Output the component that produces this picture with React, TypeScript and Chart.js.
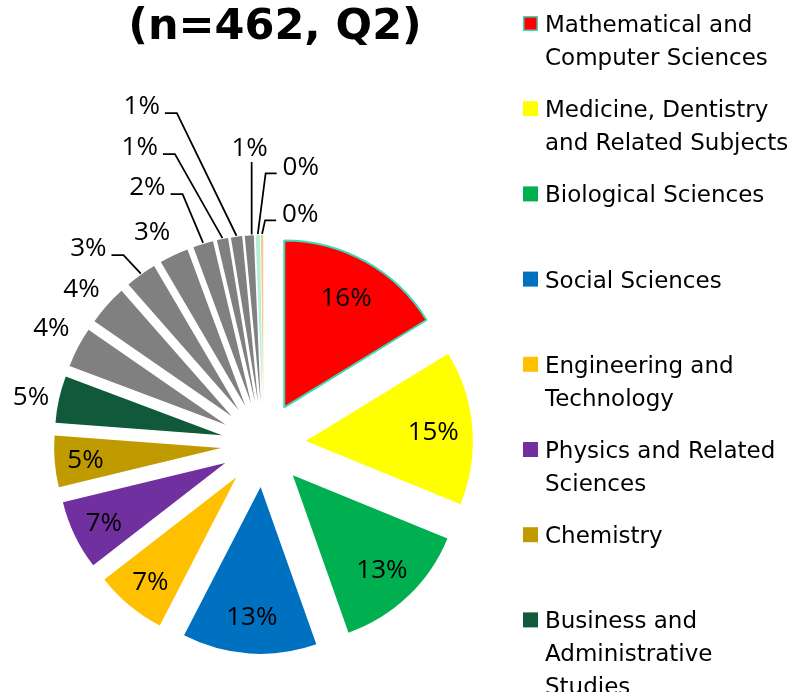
import React, { useEffect, useRef } from "react";
import { Chart, registerables } from "chart.js";

Chart.register(...registerables);

const titleText = "(n=462, Q2)";

const categories = [
  "Mathematical and Computer Sciences",
  "Medicine, Dentistry and Related Subjects",
  "Biological Sciences",
  "Social Sciences",
  "Engineering and Technology",
  "Physics and Related Sciences",
  "Chemistry",
  "Business and Administrative Studies",
  "Subjects Allied to Medicine",
  "Physical Geography and Environmental Sciences",
  "Education",
  "Historical and Philosophical Studies",
  "Languages",
  "Law",
  "Architecture, Building and Planning",
  "Creative Arts and Design",
  "Agriculture and Related Subjects",
  "Veterinary Sciences",
];

// respondents per subject (n = 462)
const counts = [75, 69, 62, 60, 32, 31, 23, 21, 18, 18, 14, 13, 9, 5, 5, 4, 2, 1];

const sliceColors = [
  "#FF0000",
  "#FFFF00",
  "#00B050",
  "#0070C0",
  "#FFC000",
  "#7030A0",
  "#C09B00",
  "#10593A",
  "#808080",
  "#808080",
  "#808080",
  "#808080",
  "#808080",
  "#808080",
  "#808080",
  "#808080",
  "#B5EFD9",
  "#F6C880",
];

const highlightBorder = "#3CDAB4";

// label placement: null = inside the slice, [dx, dy] = outside, offset from the slice's outer-edge midpoint
const labelOffsets: (null | [number, number])[] = [
  null, null, null, null, null, null, null,
  [-28, -4],
  [-26.6, -21],
  [-25.6, -17.6],
  [-52.5, -27.5],
  [-21.8, -24],
  [-55.7, -57.7],
  [-82.7, -92.9],
  [-94.8, -131.6],
  [0.4, -88.5],
  [43, -69.8],
  [38.2, -22.7],
];

const W = 794;
const H = 692;
const PIE_RADIUS = 167;
const EXPLODE_DIST = 42.5; // every slice pulled out from the centre by this distance
const LABEL_FONT = '26px "Open Sans"';
const LEGEND_FONT = '23px "DejaVu Sans"';
const TITLE_FONT = 'bold 43px "DejaVu Sans"';

function wrapText(ctx: CanvasRenderingContext2D, text: string, maxWidth: number): string[] {
  const words = text.split(" ");
  const lines: string[] = [];
  let cur = "";
  for (const w of words) {
    const test = cur ? cur + " " + w : w;
    if (ctx.measureText(test).width > maxWidth && cur) {
      lines.push(cur);
      cur = w;
    } else {
      cur = test;
    }
  }
  if (cur) lines.push(cur);
  return lines;
}

const decorPlugin = {
  id: "decor",
  afterDatasetsUpdate(chart: any) {
    // explode each slice along its bisector
    const meta = chart.getDatasetMeta(0);
    meta.data.forEach((arc: any) => {
      const mid = (arc.startAngle + arc.endAngle) / 2;
      arc.x = arc.x + Math.cos(mid) * EXPLODE_DIST;
      arc.y = arc.y + Math.sin(mid) * EXPLODE_DIST;
    });
  },
  afterDraw(chart: any) {
    const ctx: CanvasRenderingContext2D = chart.ctx;
    ctx.save();

    // title
    ctx.fillStyle = "#000";
    ctx.font = TITLE_FONT;
    ctx.textAlign = "center";
    ctx.textBaseline = "alphabetic";
    ctx.fillText(titleText, 275, 39);

    // legend
    ctx.font = LEGEND_FONT;
    ctx.textAlign = "left";
    const legX = 523;
    const textX = 545;
    const firstY = 23.5;
    const step = 85.2;
    const lineH = 33;
    categories.forEach((cat, i) => {
      const cy = firstY + i * step;
      ctx.fillStyle = sliceColors[i];
      ctx.fillRect(legX, cy - 7.5, 15, 15);
      if (i === 0) {
        ctx.strokeStyle = highlightBorder;
        ctx.lineWidth = 1.5;
        ctx.strokeRect(legX + 0.75, cy - 6.75, 13.5, 13.5);
      }
      ctx.fillStyle = "#000";
      const lines = wrapText(ctx, cat, W - textX);
      lines.forEach((ln, j) => {
        ctx.fillText(ln, textX, cy + 8.4 + j * lineH);
      });
    });

    // data labels
    const meta = chart.getDatasetMeta(0);
    const total = counts.reduce((a, b) => a + b, 0);
    ctx.font = LABEL_FONT;
    ctx.textAlign = "center";
    ctx.strokeStyle = "#000";
    ctx.lineWidth = 1.75;
    meta.data.forEach((arc: any, i: number) => {
      const { x, y, startAngle, endAngle, outerRadius } = arc.getProps(
        ["x", "y", "startAngle", "endAngle", "outerRadius"],
        true
      );
      const mid = (startAngle + endAngle) / 2;
      const cs = Math.cos(mid);
      const sn = Math.sin(mid);
      const share = counts[i] / total;
      const text = Math.round(share * 100) + "%";
      const tw = ctx.measureText(text).width;
      const place = labelOffsets[i];
      let lx: number, ly: number;
      if (!place) {
        const rf = 0.84 - 0.5 * share;
        lx = x + cs * outerRadius * rf;
        ly = y + sn * outerRadius * rf;
      } else {
        const ex = x + cs * outerRadius;
        const ey = y + sn * outerRadius;
        lx = ex + place[0];
        ly = ey + place[1];
        if (Math.hypot(place[0], place[1]) > 40) {
          ctx.beginPath();
          if (Math.abs(place[0]) < 10) {
            ctx.moveTo(lx + 2, ly + 15);
            ctx.lineTo(lx + 2, ey - 1);
          } else if (place[0] < 0) {
            const sx = lx + tw / 2 + 5;
            const sy = ly + 8;
            ctx.moveTo(sx, sy);
            ctx.lineTo(sx + 12, sy);
            ctx.lineTo(ex, ey - 1);
          } else {
            const sx = lx - tw / 2 - 6;
            const sy = ly + 8;
            ctx.moveTo(sx, sy);
            ctx.lineTo(sx - 11, sy);
            ctx.lineTo(ex, ey - 1);
          }
          ctx.stroke();
        }
      }
      ctx.fillStyle = "#000";
      ctx.textBaseline = "alphabetic";
      ctx.fillText(text, lx, ly + 9.3);
    });

    ctx.restore();
  },
};

export default function App() {
  const canvasRef = useRef<HTMLCanvasElement | null>(null);

  useEffect(() => {
    if (!canvasRef.current) return;
    const chart = new Chart(canvasRef.current, {
      type: "pie",
      data: {
        labels: categories,
        datasets: [
          {
            data: counts,
            backgroundColor: sliceColors,
            borderColor: sliceColors.map((c, i) => (i === 0 ? highlightBorder : c)),
            borderWidth: sliceColors.map((_, i) => (i === 0 ? 2 : 0)),
            radius: PIE_RADIUS,
            clip: false,
          } as any,
        ],
      },
      options: {
        responsive: false,
        maintainAspectRatio: false,
        animation: false,
        devicePixelRatio: 1,
        layout: { padding: { left: 0, right: 267, top: 197, bottom: 0 } },
        plugins: {
          legend: { display: false },
          tooltip: { enabled: false },
          title: { display: false },
        },
        events: [],
      } as any,
      plugins: [decorPlugin],
    });
    return () => chart.destroy();
  }, []);

  return (
    <div style={{ position: "absolute", left: 0, top: 0, width: W, height: H, background: "#fff" }}>
      <canvas ref={canvasRef} width={W} height={H} style={{ width: W, height: H, display: "block" }} />
    </div>
  );
}
